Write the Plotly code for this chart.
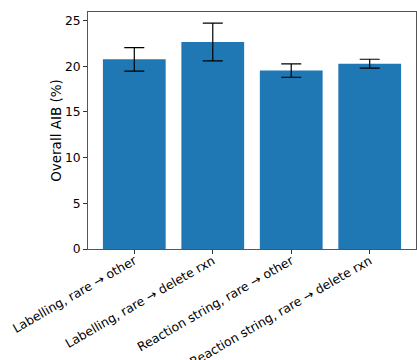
import plotly.graph_objects as go

categories = ["Labelling, rare \u2192 other", "Labelling, rare \u2192 delete rxn",
              "Reaction string, rare \u2192 other", "Reaction string, rare \u2192 delete rxn"]
values = [20.75, 22.65, 19.52, 20.28]
errors = [1.28, 2.07, 0.73, 0.48]
yticks = [0, 5, 10, 15, 20, 25]

fig = go.Figure(go.Bar(
    x=list(range(len(categories))), y=values,
    marker=dict(color="#1f77b4", line=dict(width=0)),
    width=0.8,
    error_y=dict(type="data", array=errors, visible=True, color="black", thickness=1.2, width=10),
))
fig.update_layout(
    width=417, height=360,
    margin=dict(l=88, r=1, t=12, b=111),
    plot_bgcolor="white", paper_bgcolor="white",
    font=dict(family="DejaVu Sans", size=13, color="black"),
    showlegend=False,
)
fig.update_xaxes(
    range=[-0.59, 3.59], tickvals=list(range(len(categories))), ticktext=categories,
    tickangle=-30, ticks="outside", ticklen=4, tickcolor="#333", automargin=False,
    ticklabelstandoff=-5,
    showline=True, linecolor="#555", mirror=True, showgrid=False, zeroline=False,
    tickfont=dict(size=12.4),
)
fig.update_yaxes(
    range=[0, 25.93], tickvals=yticks, ticks="outside", ticklen=4, tickcolor="#333", automargin=False,
    showline=True, linecolor="#555", mirror=True, showgrid=False, zeroline=False,
    title=dict(text="Overall AIB (%)", font=dict(size=13.5), standoff=0),
    tickfont=dict(size=12.3),
)
fig.write_html("out.html", config={"displayModeBar": False},
               post_script="document.body.style.margin='0';document.body.style.overflow='hidden';")
